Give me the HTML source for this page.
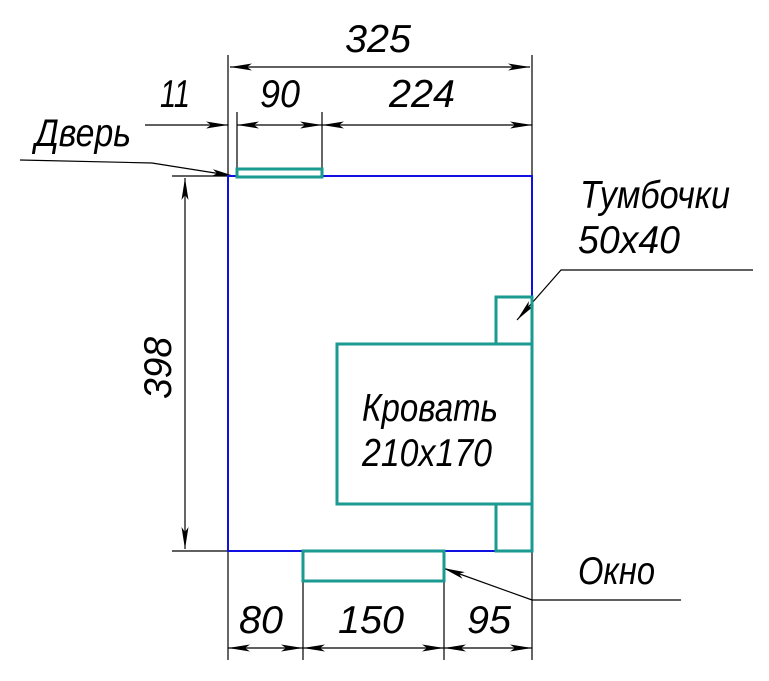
<!DOCTYPE html>
<html><head><meta charset="utf-8"><style>
html,body{margin:0;padding:0;background:#fff;}
svg text{font-family:"Liberation Sans",sans-serif;font-style:italic;font-size:39px;fill:#000;}
</style></head><body>
<svg width="769" height="676" viewBox="0 0 769 676" xmlns="http://www.w3.org/2000/svg">
<defs>
<marker id="a" viewBox="0 0 22 8" refX="22" refY="4" markerWidth="22" markerHeight="8" markerUnits="userSpaceOnUse" orient="auto-start-reverse">
<path d="M0,0.5 L22,4 L0,7.5 L5,4 Z" fill="#000"/></marker>
</defs>
<g stroke="#000" stroke-width="1.2" fill="none">
<line x1="228" y1="55" x2="228" y2="176"/>
<line x1="532" y1="55" x2="532" y2="176"/>
<line x1="237" y1="112" x2="237" y2="170"/>
<line x1="322" y1="112" x2="322" y2="170"/>
<line x1="230" y1="67" x2="530" y2="67" marker-start="url(#a)" marker-end="url(#a)"/>
<line x1="145" y1="125" x2="228" y2="125" marker-end="url(#a)"/>
<line x1="237" y1="125" x2="322" y2="125" marker-start="url(#a)" marker-end="url(#a)"/>
<line x1="322" y1="125" x2="532" y2="125" marker-start="url(#a)" marker-end="url(#a)"/>
<polyline points="20,160 152,163 234,176" marker-end="url(#a)"/>
<line x1="172" y1="176" x2="228" y2="176"/>
<line x1="172" y1="551" x2="228" y2="551"/>
<line x1="185" y1="178" x2="185" y2="549" marker-start="url(#a)" marker-end="url(#a)"/>
<line x1="228" y1="551" x2="228" y2="660"/>
<line x1="303" y1="581" x2="303" y2="660"/>
<line x1="444" y1="581" x2="444" y2="660"/>
<line x1="532" y1="551" x2="532" y2="660"/>
<line x1="228" y1="648" x2="303" y2="648" marker-start="url(#a)" marker-end="url(#a)"/>
<line x1="303" y1="648" x2="444" y2="648" marker-start="url(#a)" marker-end="url(#a)"/>
<line x1="444" y1="648" x2="532" y2="648" marker-start="url(#a)" marker-end="url(#a)"/>
<polyline points="681,600 532,600 443,568" marker-end="url(#a)"/>
<polyline points="753,270 561,270 517,320" marker-end="url(#a)"/>
</g>
<rect x="228" y="176" width="304" height="375" fill="none" stroke="#1010e0" stroke-width="2"/>
<g stroke="#1a9a90" stroke-width="3" fill="none">
<rect x="237" y="169" width="85" height="8" fill="#fff"/>
<rect x="303" y="551" width="141" height="30"/>
<rect x="337" y="344" width="195" height="160"/>
<rect x="496" y="297" width="36" height="47"/>
<rect x="496" y="504" width="36" height="47"/>
</g>
<text x="345" y="52" textLength="66" lengthAdjust="spacingAndGlyphs">325</text>
<text x="160" y="107" textLength="30" lengthAdjust="spacingAndGlyphs">11</text>
<text x="260" y="107" textLength="40" lengthAdjust="spacingAndGlyphs">90</text>
<text x="389" y="107" textLength="66" lengthAdjust="spacingAndGlyphs">224</text>
<text x="35" y="146" textLength="96" lengthAdjust="spacingAndGlyphs">Дверь</text>
<text x="580" y="208" textLength="150" lengthAdjust="spacingAndGlyphs">Тумбочки</text>
<text x="578" y="253" textLength="102" lengthAdjust="spacingAndGlyphs">50х40</text>
<text x="362" y="421" textLength="136" lengthAdjust="spacingAndGlyphs">Кровать</text>
<text x="362" y="466" textLength="130" lengthAdjust="spacingAndGlyphs">210х170</text>
<text x="578" y="584" textLength="77" lengthAdjust="spacingAndGlyphs">Окно</text>
<text x="239" y="633" textLength="44" lengthAdjust="spacingAndGlyphs">80</text>
<text x="338" y="633" textLength="66" lengthAdjust="spacingAndGlyphs">150</text>
<text x="467" y="633" textLength="44" lengthAdjust="spacingAndGlyphs">95</text>
<text transform="translate(171,399) rotate(-90)" textLength="62" lengthAdjust="spacingAndGlyphs">398</text>
</svg>
</body></html>
